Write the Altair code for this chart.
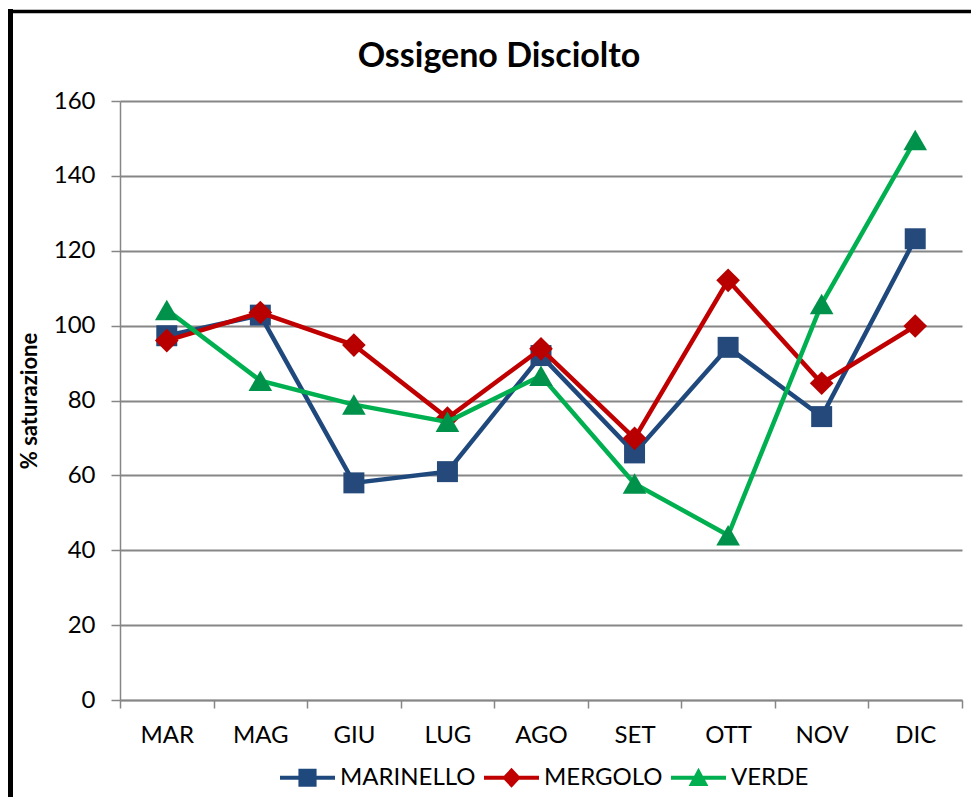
import altair as alt
import pandas as pd

months = ["MAR", "MAG", "GIU", "LUG", "AGO", "SET", "OTT", "NOV", "DIC"]
series = ["MARINELLO", "MERGOLO", "VERDE"]
marinello = [97.3, 102.8, 58.0, 61.0, 92.0, 66.0, 94.2, 75.7, 123.2]
mergolo = [96.0, 103.5, 94.8, 75.3, 93.8, 69.9, 112.1, 84.6, 99.9]
verde = [104.2, 85.3, 78.9, 74.3, 86.6, 57.8, 44.0, 105.8, 149.6]
y_ticks = [0, 20, 40, 60, 80, 100, 120, 140, 160]

line_colors = ["#1F497D", "#C00000", "#00B050"]
marker_colors = ["#24497A", "#B80000", "#00924A"]
marker_shapes = ["square", "diamond", "triangle-up"]
marker_sizes = [440, 560, 560]
legend_paths = [
    "M-1,-0.075H1V0.075H-1Z M-0.33,-0.33H0.33V0.33H-0.33Z",
    "M-1,-0.075H1V0.075H-1Z M0,-0.36L0.34,0L0,0.36L-0.34,0Z",
    "M-1,-0.075H1V0.075H-1Z M0,-0.36L0.36,0.3H-0.36Z",
]

values = {"MARINELLO": marinello, "MERGOLO": mergolo, "VERDE": verde}
rows = []
for s in series:
    for m, v in zip(months, values[s]):
        rows.append({"mese": m, "serie": s, "valore": v})
df = pd.DataFrame(rows)

FONT = "Lato"
GRID = "#868686"

x_enc = alt.X(
    "mese:N",
    sort=months,
    scale=alt.Scale(type="band", domain=months, paddingInner=0, paddingOuter=0),
    axis=alt.Axis(
        title=None, grid=False, tickBand="extent", tickSize=8, tickColor=GRID,
        tickWidth=1.5, domainColor=GRID, domainWidth=1.5, labelFont=FONT,
        labelFontSize=24, labelColor="black", labelPadding=15, labelAngle=0,
    ),
)
y_enc = alt.Y(
    "valore:Q",
    scale=alt.Scale(domain=[0, 160], nice=False),
    axis=alt.Axis(
        title="% saturazione", values=y_ticks, grid=True, gridColor=GRID,
        gridWidth=2, tickSize=9, tickColor=GRID, tickWidth=1.5, domainColor=GRID,
        domainWidth=1.5, labelFont=FONT, labelFontSize=24, labelColor="black",
        labelPadding=16, titleFont=FONT, titleFontSize=22, titleFontWeight="bold",
        titleColor="black", titlePadding=12,
    ),
)

base = alt.Chart(df).encode(x=x_enc, y=y_enc)

layers = []
for i, s in enumerate(series):
    sub = base.transform_filter(alt.datum.serie == s)
    layers.append(sub.mark_line(strokeWidth=4.5, color=line_colors[i]))
    layers.append(
        sub.mark_point(
            shape=marker_shapes[i], filled=True, size=marker_sizes[i],
            color=marker_colors[i], opacity=1, strokeWidth=0,
        )
    )

leg = alt.Legend(
    title=None, orient="none", legendX=160, legendY=649, direction="horizontal",
    labelFont=FONT, labelFontSize=24, labelColor="black", symbolSize=3025,
    symbolOpacity=1, symbolStrokeWidth=0, labelOffset=5, columnPadding=8, padding=0,
)
legend_layer = base.mark_point(filled=True, opacity=0).encode(
    color=alt.Color("serie:N", scale=alt.Scale(domain=series, range=line_colors), legend=leg),
    shape=alt.Shape("serie:N", scale=alt.Scale(domain=series, range=legend_paths), legend=leg),
)
layers.append(legend_layer)

one = pd.DataFrame({"k": [0]})
left_bar = alt.Chart(one).mark_rule(color="black", strokeWidth=5).encode(
    x=alt.value(-109.5), y=alt.value(-92), y2=alt.value(700)
)
top_bar = alt.Chart(one).mark_rule(color="black", strokeWidth=3.5).encode(
    x=alt.value(-112), x2=alt.value(851), y=alt.value(-89.5)
)
layers += [left_bar, top_bar]

chart = (
    alt.layer(*layers)
    .properties(
        width=842,
        height=599,
        title=alt.TitleParams(
            "Ossigeno Disciolto", font=FONT, fontSize=34, fontWeight="bold",
            color="black", anchor="middle", dx=-42, offset=-67,
        ),
        autosize=alt.AutoSizeParams(type="none"),
        padding={"left": 112, "top": 93, "right": 9, "bottom": 97},
    )
    .configure_view(strokeWidth=0)
)

chart.save("out.html", embed_options={"renderer": "svg", "actions": False})
